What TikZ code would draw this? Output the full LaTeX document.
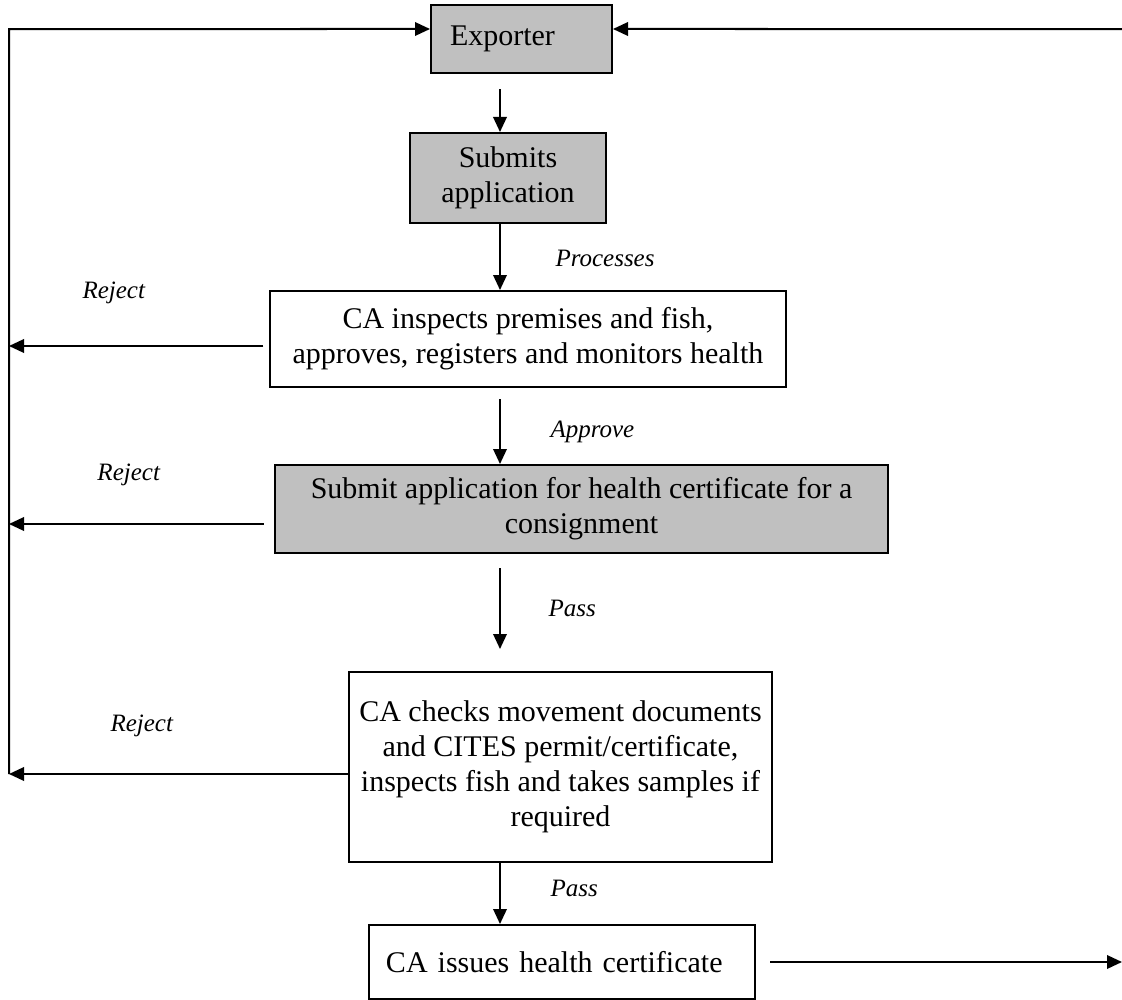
\documentclass[tikz,border=0pt]{standalone}
\usepackage{fontspec}
\setmainfont{Liberation Serif}
\usetikzlibrary{arrows.meta, positioning}
\definecolor{boxgray}{RGB}{192,192,192}

\begin{document}
\begin{tikzpicture}[x=0.4pt, y=-0.4pt,
  every node/.style={font=\fontsize{12}{14}\selectfont},
  block/.style={rectangle, draw, line width=0.8pt, align=center, inner sep=0pt},
  shaded/.style={block, fill=boxgray},
  cond/.style={font=\fontsize{10}{12}\selectfont\itshape, anchor=west, inner sep=0pt},
  arrow/.style={line width=0.8pt, -{Triangle[length=6pt, width=5.4pt]}}]

\useasboundingbox (0,0) rectangle (1122,1000);

\node[shaded, minimum width=72.4pt, minimum height=27.2pt, text width=57.2pt, align=left] (exporter) at (521.5,39) {Exporter};
\node[shaded, minimum width=78.4pt, minimum height=36pt] (submit) at (508,178) {Submits\\application};
\node[block, minimum width=206pt, minimum height=38.4pt] (inspect) at (528,339) {CA inspects premises and fish,\\approves, registers and monitors health};
\node[shaded, minimum width=245.2pt, minimum height=35.2pt] (certapp) at (581.5,509) {Submit application for health certificate for a\\consignment};
\node[block, minimum width=169.2pt, minimum height=76pt] (checks) at (560.5,767) {CA checks movement documents\\and CITES permit/certificate,\\inspects fish and takes samples if\\required};
\node[block, minimum width=154.4pt, minimum height=29.6pt, text width=140.8pt, align=left] (issue) at (562,962) {CA issues health certificate};

\node[cond] (processes) at (555,258) {Processes};
\node[cond] (approve) at (550,432) {Approve};
\node[cond] (pass1) at (548,608) {Pass};
\node[cond] (pass2) at (550,888) {Pass};
\node[cond] (reject1) at (82,293) {Reject};
\node[cond] (reject2) at (97,475) {Reject};
\node[cond] (reject3) at (110,726) {Reject};

\coordinate (trunk) at (500,0);
\coordinate (rail) at (9,0);
\coordinate (outtop) at (1122,29);
\coordinate (outbot) at (1122,967);

\draw[arrow, shorten <=6pt] (exporter.south -| trunk) -- (submit.north -| trunk);
\draw[arrow] (submit.south -| trunk) -- (inspect.north -| trunk);
\draw[arrow, shorten <=4.4pt] (inspect.south -| trunk) -- (certapp.north -| trunk);
\draw[arrow, shorten <=5.6pt, shorten >=8.8pt] (certapp.south -| trunk) -- (checks.north -| trunk);
\draw[arrow] (checks.south -| trunk) -- (issue.north -| trunk);

\draw[arrow, shorten <=2.4pt] ([yshift=-2.8pt]inspect.west) -- ([yshift=-2.8pt]inspect.west -| rail);
\draw[arrow, shorten <=4pt] ([yshift=-6pt]certapp.west) -- ([yshift=-6pt]certapp.west -| rail);
\draw[arrow] ([yshift=-2.8pt]checks.west) -- ([yshift=-2.8pt]checks.west -| rail);
\draw[arrow] ([yshift=-2.8pt]checks.west -| rail) -- (rail |- outtop) -- ([yshift=4pt]exporter.west);
\draw[arrow] (outtop) -- ([yshift=4pt]exporter.east);
\draw[arrow, shorten <=5.6pt] (issue.east) -- (issue.east -| outbot);

\end{tikzpicture}
\end{document}
